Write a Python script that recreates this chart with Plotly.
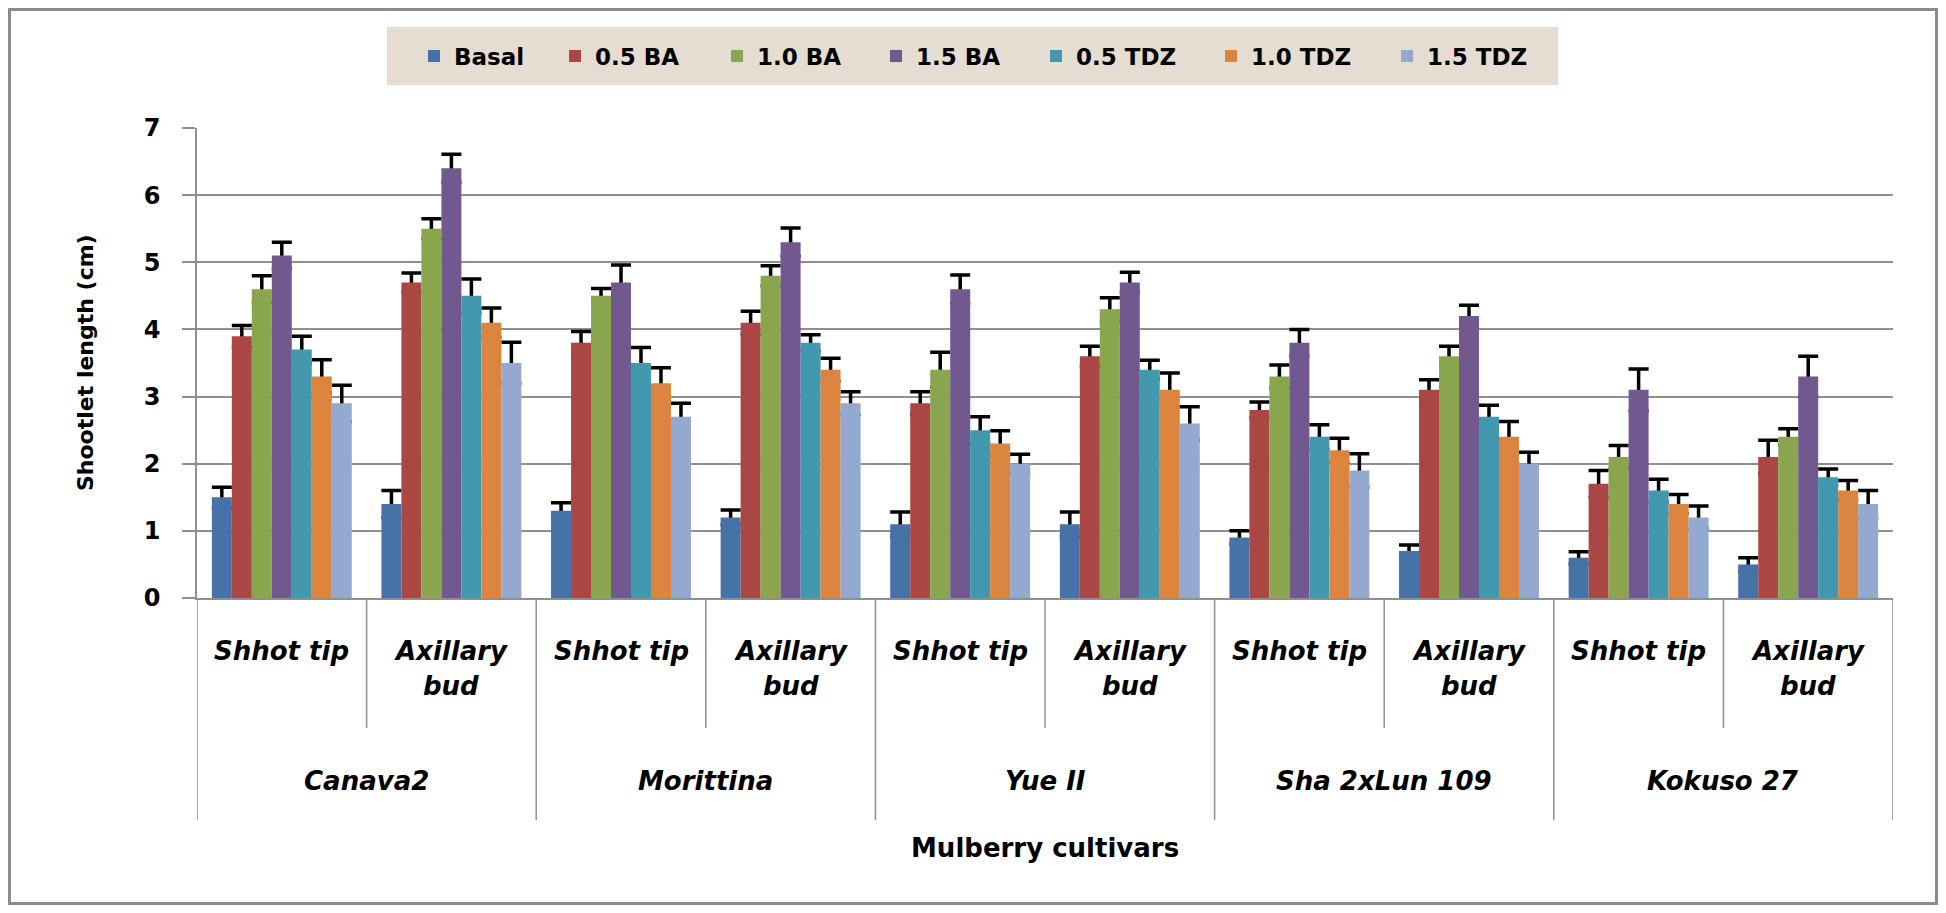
import plotly.graph_objects as go

# ---------------- data ----------------
cultivars = ["Canava2", "Morittina", "Yue II", "Sha 2xLun 109", "Kokuso 27"]
explants = ["Shhot tip", "Axillary\nbud"]

series_names = ["Basal", "0.5 BA", "1.0 BA", "1.5 BA", "0.5 TDZ", "1.0 TDZ", "1.5 TDZ"]

basal = [1.5, 1.4, 1.3, 1.2, 1.1, 1.1, 0.9, 0.7, 0.6, 0.5]
ba_05 = [3.9, 4.7, 3.8, 4.1, 2.9, 3.6, 2.8, 3.1, 1.7, 2.1]
ba_10 = [4.6, 5.5, 4.5, 4.8, 3.4, 4.3, 3.3, 3.6, 2.1, 2.4]
ba_15 = [5.1, 6.4, 4.7, 5.3, 4.6, 4.7, 3.8, 4.2, 3.1, 3.3]
tdz_05 = [3.7, 4.5, 3.5, 3.8, 2.5, 3.4, 2.4, 2.7, 1.6, 1.8]
tdz_10 = [3.3, 4.1, 3.2, 3.4, 2.3, 3.1, 2.2, 2.4, 1.4, 1.6]
tdz_15 = [2.9, 3.5, 2.7, 2.9, 2.0, 2.6, 1.9, 2.0, 1.2, 1.4]

basal_err = [0.15, 0.20, 0.12, 0.11, 0.18, 0.18, 0.10, 0.09, 0.09, 0.10]
ba_05_err = [0.16, 0.14, 0.17, 0.17, 0.17, 0.15, 0.12, 0.15, 0.20, 0.25]
ba_10_err = [0.20, 0.15, 0.11, 0.15, 0.26, 0.17, 0.17, 0.15, 0.17, 0.12]
ba_15_err = [0.20, 0.21, 0.26, 0.21, 0.21, 0.15, 0.20, 0.16, 0.31, 0.30]
tdz_05_err = [0.20, 0.25, 0.23, 0.12, 0.20, 0.14, 0.18, 0.17, 0.17, 0.12]
tdz_10_err = [0.25, 0.22, 0.23, 0.17, 0.19, 0.25, 0.18, 0.23, 0.14, 0.15]
tdz_15_err = [0.27, 0.31, 0.20, 0.17, 0.14, 0.25, 0.25, 0.17, 0.17, 0.20]

y_ticks = [0, 1, 2, 3, 4, 5, 6, 7]
y_title = "Shootlet length (cm)"
x_title = "Mulberry cultivars"

series_values = [basal, ba_05, ba_10, ba_15, tdz_05, tdz_10, tdz_15]
series_errors = [basal_err, ba_05_err, ba_10_err, ba_15_err, tdz_05_err, tdz_10_err, tdz_15_err]
colors = ["#4572A7", "#AA4643", "#89A54E", "#71588F", "#4198AF", "#DB843D", "#93A9CF"]

# ---------------- layout geometry (page pixel coordinates) ----------------
OFF = 8                      # default body margin of the html page
W, H = 1946 - 2 * OFF, 913 - 2 * OFF
PLOT_L, PLOT_R, PLOT_T, PLOT_B = 197, 1893, 128, 598   # page coords of plot area
L = PLOT_L - OFF
T = PLOT_T - OFF
R = W - (PLOT_R - OFF)
B = H - (PLOT_B - OFF)
PW = PLOT_R - PLOT_L
PH = PLOT_B - PLOT_T


def px(xp):
    return (xp - PLOT_L) / PW


def py(yp):
    return (PLOT_B - yp) / PH


FONT = "DejaVu Sans"
GRID = "#8f8f8f"

n_sub = len(explants)
positions = list(range(len(cultivars) * n_sub))
n_cat = len(positions)

# legend entry left edges (page px), one small legend per series
legend_left = [414, 555, 717, 876, 1036, 1211, 1387]

fig = go.Figure()

# error bars (drawn underneath the visible bars so only the upper half shows)
for name, vals, errs in zip(series_names, series_values, series_errors):
    fig.add_trace(go.Bar(
        x=positions, y=vals, name=name, showlegend=False, hoverinfo="skip",
        marker=dict(color="rgba(0,0,0,0)", line=dict(width=0)),
        error_y=dict(type="data", array=errs, visible=True, color="black",
                     thickness=3.5, width=10),
        yaxis="y",
    ))

# visible bars
legend_layout = {}
for i, (name, vals, col) in enumerate(zip(series_names, series_values, colors)):
    key = "legend" if i == 0 else f"legend{i + 1}"
    fig.add_trace(go.Bar(
        x=positions, y=vals, name=name,
        marker=dict(color=col, line=dict(width=0)),
        yaxis="y2", legend=key,
    ))
    legend_layout[key] = dict(
        orientation="h", x=px(legend_left[i]), xanchor="left",
        y=py(56), yanchor="middle", bgcolor="rgba(0,0,0,0)", borderwidth=0,
        font=dict(family=FONT, size=23, color="black", weight="bold"),
    )

shapes = []
# beige legend background
shapes.append(dict(type="rect", xref="paper", yref="paper",
                   x0=px(387), x1=px(1558), y0=py(85), y1=py(27),
                   fillcolor="#E5DDD1", line=dict(width=0), layer="below"))
# outer frame
shapes.append(dict(type="rect", xref="paper", yref="paper",
                   x0=px(OFF + 1.5), x1=px(OFF + W - 1.5), y0=py(OFF + H - 1.5), y1=py(OFF + 1.5),
                   fillcolor="rgba(0,0,0,0)", line=dict(color="#8c8c8c", width=3),
                   layer="above"))
# category dividers below x axis
for k in range(n_cat + 1):
    xpos = k - 0.5
    is_group = (k % n_sub == 0)
    shapes.append(dict(type="line", xref="x", yref="paper",
                       x0=xpos, x1=xpos, y0=0, y1=py(820 if is_group else 728),
                       line=dict(color=GRID, width=1.5)))

annotations = []
lab_font = dict(family=FONT, size=26, color="black", weight="bold", style="italic")
row_y = [651, 686]
for i, p in enumerate(positions):
    lines = explants[i % n_sub].split("\n")
    for j, line in enumerate(lines):
        annotations.append(dict(x=p, y=py(row_y[j]), xref="x", yref="paper",
                                text=line, showarrow=False, font=lab_font,
                                xanchor="center", yanchor="middle"))
for g, cv in enumerate(cultivars):
    annotations.append(dict(x=g * n_sub + (n_sub - 1) / 2, y=py(781), xref="x", yref="paper",
                            text=cv, showarrow=False, font=lab_font,
                            xanchor="center", yanchor="middle"))
annotations.append(dict(x=px(1045), y=py(848), xref="paper", yref="paper",
                        text=x_title, showarrow=False,
                        font=dict(family=FONT, size=26, color="black", weight="bold"),
                        xanchor="center", yanchor="middle"))
annotations.append(dict(x=px(85), y=py(363), xref="paper", yref="paper",
                        text=y_title, showarrow=False, textangle=-90,
                        font=dict(family=FONT, size=22, color="black", weight="bold"),
                        xanchor="center", yanchor="middle"))

fig.update_layout(
    width=W, height=H,
    margin=dict(l=L, r=R, t=T, b=B, pad=0),
    paper_bgcolor="white", plot_bgcolor="white",
    barmode="group", bargap=0.175, bargroupgap=0,
    showlegend=True,
    xaxis=dict(range=[-0.5, n_cat - 0.5], showline=True, linecolor=GRID, linewidth=1.5,
               showticklabels=False, ticks="", showgrid=False, zeroline=False, fixedrange=True),
    yaxis=dict(range=[y_ticks[0], y_ticks[-1]], tickvals=y_ticks, showline=True,
               linecolor=GRID, linewidth=1.5, ticks="outside", ticklen=13, tickwidth=1.5,
               tickcolor=GRID, showgrid=True, gridcolor=GRID, gridwidth=1.5, zeroline=False,
               tickfont=dict(family=FONT, size=24, color="black", weight="bold"),
               ticklabelstandoff=17),
    yaxis2=dict(range=[y_ticks[0], y_ticks[-1]], overlaying="y", visible=False),
    shapes=shapes,
    annotations=annotations,
    **legend_layout,
)

fig.write_html("out.html")
